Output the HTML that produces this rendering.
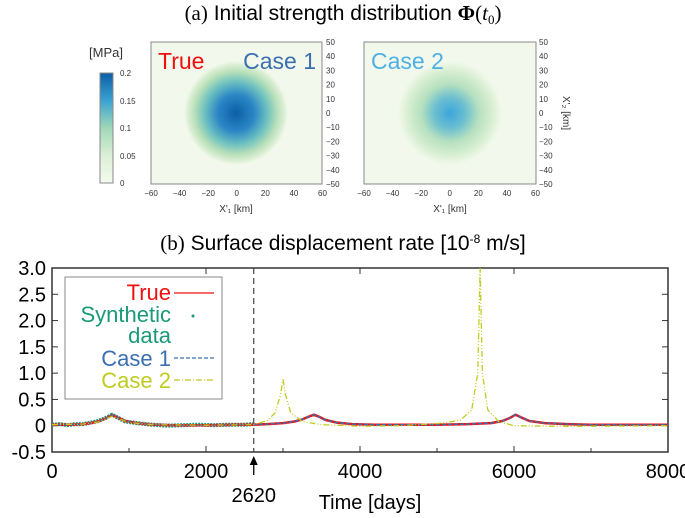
<!DOCTYPE html>
<html><head><meta charset="utf-8"><style>
body{margin:0;background:#fff;width:685px;height:518px;overflow:hidden}
svg{display:block;font-family:"Liberation Sans",sans-serif}
</style></head><body>
<svg id="c" width="685" height="518" viewBox="0 0 685 518">
<defs>
<radialGradient id="g1" cx="0.5" cy="0.5" r="0.5">
<stop offset="0" stop-color="#0d5ea6"/><stop offset="0.35" stop-color="#2b86c5"/><stop offset="0.6" stop-color="#6cc0c0"/><stop offset="0.8" stop-color="#b9e0b9"/><stop offset="0.93" stop-color="#dcefd6"/><stop offset="1" stop-color="#f2f9ec"/>
</radialGradient>
<radialGradient id="g2" cx="0.5" cy="0.5" r="0.5">
<stop offset="0" stop-color="#3ba6dc"/><stop offset="0.3" stop-color="#6cbfd0"/><stop offset="0.55" stop-color="#b5e0c0"/><stop offset="0.8" stop-color="#d6eed0"/><stop offset="1" stop-color="#f2f9ec"/>
</radialGradient>
<linearGradient id="cb" x1="0" y1="1" x2="0" y2="0">
<stop offset="0" stop-color="#f4faee"/><stop offset="0.25" stop-color="#dcefd6"/><stop offset="0.5" stop-color="#a0d8b8"/><stop offset="0.75" stop-color="#3aa2d2"/><stop offset="1" stop-color="#0d5ea6"/>
</linearGradient>
<clipPath id="pc"><rect x="52" y="268" width="616" height="184"/></clipPath>
</defs>
<text x="343" y="20" font-size="21" text-anchor="middle"><tspan font-family="Liberation Serif,serif">(a)</tspan> Initial strength distribution  <tspan font-weight="bold" font-family="Liberation Serif,serif">Φ</tspan><tspan font-family="Liberation Serif,serif">(<tspan font-style="italic">t</tspan><tspan font-size="13" dy="4">0</tspan><tspan dy="-4">)</tspan></tspan></text>
<text x="106" y="57" font-size="13" text-anchor="middle" fill="#333">[MPa]</text>
<rect x="100" y="73" width="13" height="110" fill="url(#cb)" stroke="#888"/>
<g font-size="8" fill="#333">
<text x="120" y="76">0.2</text><text x="120" y="104">0.15</text><text x="120" y="131">0.1</text><text x="120" y="159">0.05</text><text x="120" y="186">0</text></g>
<rect x="151" y="42" width="171" height="142" fill="#f2f9ec" stroke="#888"/>
<circle cx="236" cy="113" r="52" fill="url(#g1)"/>
<text x="158" y="69" font-size="23" fill="#f01010">True</text>
<text x="316" y="69" font-size="23" fill="#3a6fb0" text-anchor="end">Case 1</text>
<rect x="364" y="42" width="172" height="142" fill="#f2f9ec" stroke="#888"/>
<circle cx="450" cy="113" r="52" fill="url(#g2)"/>
<text x="371" y="69" font-size="23" fill="#4cb0e4">Case 2</text>
<g id="hx" font-size="8" fill="#333"></g>
<text x="236" y="212" font-size="10" text-anchor="middle" fill="#333">X'₁ [km]</text>
<text x="450" y="212" font-size="10" text-anchor="middle" fill="#333">X'₁ [km]</text>
<text x="0" y="0" font-size="10" fill="#333" text-anchor="middle" transform="translate(563,113) rotate(90)">X'₂ [km]</text>
<text x="343" y="250" font-size="21" text-anchor="middle"><tspan font-family="Liberation Serif,serif">(b)</tspan> Surface displacement rate [10<tspan font-size="12" dy="-7">-8</tspan><tspan dy="7"> m/s]</tspan></text>
<g id="plot"></g>
</svg>
<script>
const times=[0,200,400,500,600,700,780,860,950,1100,1300,1600,2000,2400,2620,2800,3000,3150,3250,3330,3400,3470,3550,3700,3900,4200,4600,5000,5400,5700,5850,5950,6020,6090,6200,6400,6700,7000,7500,8000];
const trueVals=[0.02,0.02,0.03,0.05,0.08,0.14,0.2,0.15,0.09,0.05,0.02,0.01,0.01,0.02,0.02,0.03,0.05,0.08,0.12,0.17,0.21,0.17,0.11,0.06,0.03,0.02,0.02,0.02,0.03,0.05,0.09,0.15,0.21,0.16,0.09,0.05,0.03,0.02,0.02,0.02];
const synthTimes=[0,100,200,300,400,500,600,700,780,860,950,1100,1300,1500,1700,1900,2100,2300,2500,2620];
const synthVals=[0.02,0.03,0.01,0.03,0.03,0.06,0.09,0.15,0.21,0.15,0.08,0.05,0.02,0.0,0.01,0.02,0.01,0.02,0.02,0.03];
const case2Times=[0,400,600,700,780,860,1000,1300,2000,2620,2800,2900,2970,3000,3030,3100,3250,3500,4000,4500,5000,5300,5450,5530,5560,5590,5660,5800,6000,6500,7000,8000];
const case2Vals=[0.02,0.03,0.07,0.13,0.18,0.14,0.06,0.02,0.01,0.02,0.1,0.25,0.6,0.9,0.6,0.25,0.08,0.02,-0.01,0.0,0.04,0.1,0.3,1.0,3.0,1.0,0.3,0.08,0.0,-0.01,-0.01,0.0];
const xTicks=[0,2000,4000,6000,8000];
const yTicks=[-0.5,0,0.5,1.0,1.5,2.0,2.5,3.0];
const yTickLabels=["-0.5","0","0.5","1.0","1.5","2.0","2.5","3.0"];
const kmTicksX=[-60,-40,-20,0,20,40,60];
const kmTicksY=[50,40,30,20,10,0,-10,-20,-30,-40,-50];

const NS="http://www.w3.org/2000/svg";
const X=t=>52+t/8000*616, Y=v=>452-(v+0.5)/3.5*184;
function mk(tag,at,parent){const e=document.createElementNS(NS,tag);for(const k in at)e.setAttribute(k,at[k]);parent.appendChild(e);return e;}
const hx=document.getElementById('hx');
[151,364].forEach(x0=>{kmTicksX.forEach(k=>{const t=mk('text',{x:x0+(k+60)/120*171.5,y:196,'text-anchor':'middle'},hx);t.textContent=k===0?'0':(k<0?'−'+(-k):k);

});
kmTicksY.forEach(k=>{const t=mk('text',{x:x0+175,y:42+(50-k)/100*142+3},hx);t.textContent=k<0?'−'+(-k):k;

});});
const P=document.getElementById('plot');
const fr=mk('rect',{x:52,y:268,width:616,height:184,fill:'none',stroke:'#333','stroke-width':1.5},P);


yTicks.forEach((v,i)=>{const t=mk('text',{x:46,y:Y(v)+7,'font-size':20,'text-anchor':'end'},P);t.textContent=yTickLabels[i];


if(i>0&&i<yTicks.length-1){mk('line',{x1:52,x2:58,y1:Y(v),y2:Y(v),stroke:'#333'},P);mk('line',{x1:662,x2:668,y1:Y(v),y2:Y(v),stroke:'#333'},P);}});
xTicks.forEach(v=>{const t=mk('text',{x:X(v),y:478,'font-size':20,'text-anchor':'middle'},P);t.textContent=v;


mk('line',{x1:X(v),x2:X(v),y1:452,y2:446,stroke:'#333'},P);mk('line',{x1:X(v),x2:X(v),y1:268,y2:274,stroke:'#333'},P);});
for(let v=1000;v<8000;v+=2000){mk('line',{x1:X(v),x2:X(v),y1:452,y2:448,stroke:'#333'},P);}
const vl=mk('line',{x1:X(2620),x2:X(2620),y1:268,y2:452,stroke:'#444','stroke-dasharray':'6,4','stroke-width':1.2},P);


mk('line',{x1:X(2620),x2:X(2620),y1:475,y2:458,stroke:'#000','stroke-width':1.3},P);
mk('path',{d:`M${X(2620)-4},465 L${X(2620)},456 L${X(2620)+4},465Z`,fill:'#000'},P);
const lb=mk('text',{x:X(2620),y:502,'font-size':20,'text-anchor':'middle'},P);lb.textContent='2620';


const xt=mk('text',{x:370,y:509,'font-size':20,'text-anchor':'middle'},P);xt.textContent='Time [days]';


const G=mk('g',{'clip-path':'url(#pc)'},P);
function line(ts,vs,at,name){const d=ts.map((t,i)=>(i?'L':'M')+X(t).toFixed(1)+','+Y(vs[i]).toFixed(1)).join('');const p=mk('path',Object.assign({d,fill:'none','stroke-linejoin':'round'},at),G);

}
line(synthTimes,synthVals,{stroke:'#1a9a78','stroke-width':4,'stroke-dasharray':'2,1'},'synthetic-data');
line(times,trueVals,{stroke:'#f01010','stroke-width':2.5},'true-line');
line(times,trueVals,{stroke:'#3a6fb0','stroke-width':1.5,'stroke-dasharray':'4,2'},'case1-line');
line(case2Times,case2Vals,{stroke:'#bfcc20','stroke-width':1.3,'stroke-dasharray':'6,2,1,2,1,2'},'case2-line');
const L=mk('g',{},P);


mk('rect',{x:65,y:277,width:157,height:122,fill:'#fff',stroke:'#888'},L);
[['True','#f01010',300],['Synthetic','#1a9a78',322],['data','#1a9a78',343],['Case 1','#3a6fb0',366],['Case 2','#bfcc20',388]].forEach(([s,c,y])=>{const t=mk('text',{x:171,y,'font-size':22,fill:c,'text-anchor':'end'},L);t.textContent=s;

});
mk('line',{x1:174,x2:214,y1:293,y2:293,stroke:'#f01010','stroke-width':1.3},L);
mk('circle',{cx:193,cy:316,r:1.5,fill:'#1a9a78'},L);
mk('line',{x1:174,x2:214,y1:358,y2:358,stroke:'#3a6fb0','stroke-width':1.3,'stroke-dasharray':'4,2'},L);
mk('line',{x1:174,x2:214,y1:380,y2:380,stroke:'#bfcc20','stroke-width':1.3,'stroke-dasharray':'6,2,1,2'},L);
</script>
</body></html>
